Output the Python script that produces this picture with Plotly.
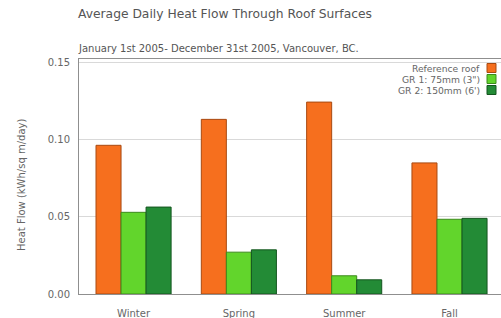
import plotly.graph_objects as go

seasons = ["Winter", "Spring", "Summer", "Fall"]
series_names = ["Reference roof", "GR 1: 75mm (3\")", "GR 2: 150mm (6')"]
reference_roof = [0.0963, 0.1131, 0.1243, 0.0849]
gr1_75mm = [0.0529, 0.0271, 0.0118, 0.0484]
gr2_150mm = [0.0563, 0.0286, 0.0092, 0.0490]
y_ticks = [0.0, 0.05, 0.10, 0.15]
y_tick_labels = ["0.00", "0.05", "0.10", "0.15"]

colors = ["#f66f1e", "#62d52c", "#238b36"]
outlines = ["#a84a12", "#3c8a1c", "#14551f"]
values = [reference_roof, gr1_75mm, gr2_150mm]

W, H = 501, 318
l, r, t, b = 79, 0, 59, 24
pw, ph = W - l - r, H - t - b
def px(xp):
    return (xp - l) / pw
def py(yp):
    return (H - b - yp) / ph

fig = go.Figure()
for name, vals, c, oc in zip(series_names, values, colors, outlines):
    fig.add_trace(go.Bar(x=seasons, y=vals, name=name, marker=dict(color=c, line=dict(color=oc, width=1)),
                         showlegend=False, hoverinfo="skip"))

font = "DejaVu Sans, Verdana, sans-serif"
fig.update_layout(
    width=W, height=H,
    margin=dict(l=l, r=r, t=t, b=b, autoexpand=False),
    paper_bgcolor="white", plot_bgcolor="white",
    barmode="group", bargap=0.287, bargroupgap=0,
    font=dict(family=font, color="#666666", size=10),
    xaxis=dict(range=[-0.518, 3.489], showline=True, linecolor="#8f8f8f", mirror=True, ticks="",
               showgrid=False, automargin=False, ticklabelstandoff=10,
               tickfont=dict(size=10, color="#666666")),
    yaxis=dict(range=[0, 0.1522], tickvals=y_ticks, ticktext=y_tick_labels, showline=True, automargin=False,
               linecolor="#8f8f8f", mirror=False, showgrid=True, gridcolor="#d9d9d9", zeroline=False,
               ticks="", ticklabelstandoff=6,
               tickfont=dict(size=10, color="#666666")),
)

anns = [
    dict(text="Average Daily Heat Flow Through Roof Surfaces", x=px(76), y=py(14), xref="paper", yref="paper",
         xanchor="left", yanchor="middle", showarrow=False, font=dict(size=12.3, color="#555555", family=font)),
    dict(text="January 1st 2005- December 31st 2005, Vancouver, BC.", x=px(76), y=py(49), xref="paper", yref="paper",
         xanchor="left", yanchor="middle", showarrow=False, font=dict(size=10, color="#555555", family=font)),
    dict(text="Heat Flow (kWh/sq m/day)", x=px(21), y=py(185), xref="paper", yref="paper", textangle=-90,
         xanchor="center", yanchor="middle", showarrow=False, font=dict(size=10, color="#666666", family=font)),
]
shapes = []
legend_y = [68, 79, 90]
for name, c, oc, ly in zip(series_names, colors, outlines, legend_y):
    anns.append(dict(text=name, x=px(482), y=py(ly), xref="paper", yref="paper", xanchor="right",
                     yanchor="middle", showarrow=False, font=dict(size=9.2, color="#666666", family=font)))
    shapes.append(dict(type="rect", xref="paper", yref="paper", x0=px(487), x1=px(496),
                       y0=py(ly + 4.5), y1=py(ly - 4.5), fillcolor=c, line=dict(color=oc, width=1)))
fig.update_layout(annotations=anns, shapes=shapes)

fig.write_html("out.html", config={"displayModeBar": False},
               post_script="document.body.style.margin='0';document.body.style.overflow='hidden';")
